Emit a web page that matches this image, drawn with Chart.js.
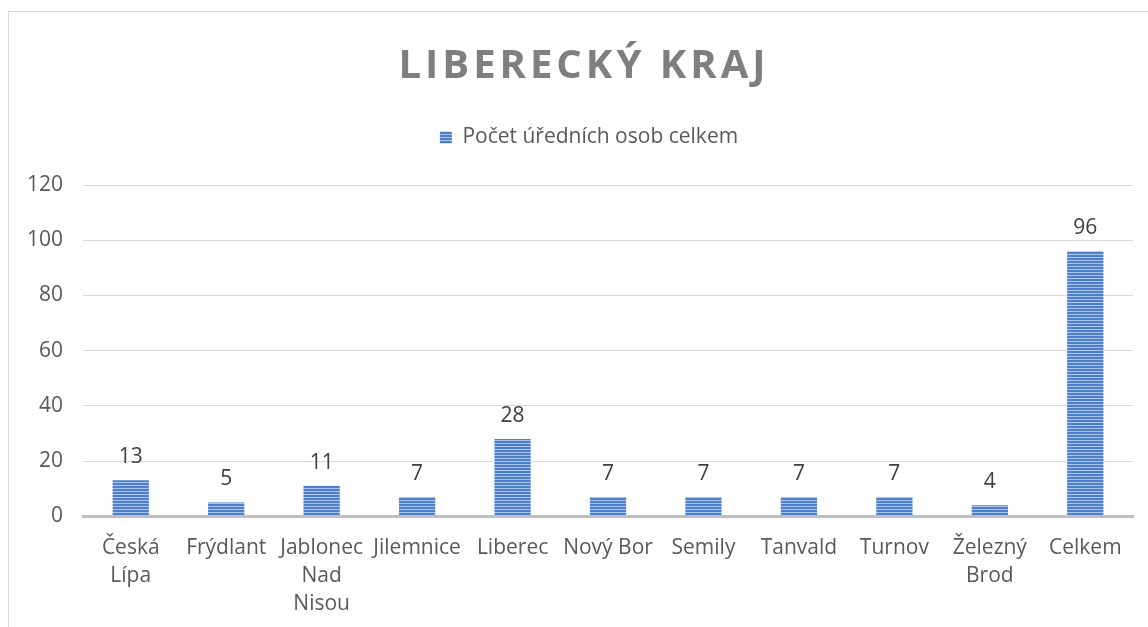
<!DOCTYPE html>
<html>
<head>
<meta charset="utf-8">
<script src="https://cdn.jsdelivr.net/npm/chart.js@4.4.0/dist/chart.umd.min.js"></script>
<style>
  html, body { margin: 0; padding: 0; background: #fff; overflow: hidden; }
  #frame { position: absolute; left: 8px; top: 11px; width: 1162px; height: 640px; border: 1px solid #d9d9d9; }
  #frame canvas { display: block; }
</style>
</head>
<body>
<div id="frame"><canvas id="kraj" width="1162" height="640"></canvas></div>
<script>
var chartTitle = "LIBERECKÝ KRAJ";
var seriesName = "Počet úředních osob celkem";
var labels = [
  ["Česká", "Lípa"], "Frýdlant", ["Jablonec", "Nad", "Nisou"], "Jilemnice", "Liberec",
  "Nový Bor", "Semily", "Tanvald", "Turnov", ["Železný", "Brod"], "Celkem"
];
var values = [13, 5, 11, 7, 28, 7, 7, 7, 7, 4, 96];
var yTicks = [0, 20, 40, 60, 80, 100, 120];

// striped fill like the office chart
function stripes() {
  var c = document.createElement("canvas");
  c.width = 4; c.height = 3;
  var g = c.getContext("2d");
  g.fillStyle = "#4f7fca"; g.fillRect(0, 0, 4, 2);
  g.fillStyle = "#a9c5ee"; g.fillRect(0, 2, 4, 1);
  return document.getElementById("kraj").getContext("2d").createPattern(c, "repeat");
}
var fill = stripes();

var titlePlugin = {
  id: "spacedTitle",
  afterDraw: function (chart) {
    var ctx = chart.ctx;
    ctx.save();
    ctx.font = "bold 40px 'Open Sans'";
    ctx.fillStyle = "#7f7f7f";
    ctx.textAlign = "center";
    ctx.textBaseline = "alphabetic";
    ctx.letterSpacing = "4px";
    ctx.fillText(chartTitle, chart.width / 2 - 6, 66);
    ctx.restore();
  }
};

// more room under the legend, and centre it on the whole frame
var legendSpace = {
  id: "legendSpace",
  beforeInit: function (chart) {
    var fit = chart.legend.fit;
    chart.legend.fit = function () {
      fit.bind(chart.legend)();
      this.height += 27;
    };
  },
  afterLayout: function (chart) {
    chart.legend.left += 19;
    chart.legend.right += 19;
  }
};

var valuePlugin = {
  id: "barValues",
  afterDatasetsDraw: function (chart) {
    var ctx = chart.ctx;
    var meta = chart.getDatasetMeta(0);
    ctx.save();
    ctx.font = "21px 'Open Sans'";
    ctx.fillStyle = "#404040";
    ctx.textAlign = "center";
    ctx.textBaseline = "alphabetic";
    meta.data.forEach(function (bar, i) {
      ctx.fillText(values[i], bar.x, bar.y - 17);
    });
    ctx.restore();
  }
};

new Chart(document.getElementById("kraj"), {
  type: "bar",
  data: {
    labels: labels,
    datasets: [
      {
        label: seriesName,
        backgroundColor: fill,
        borderWidth: 0,
        data: values,
        categoryPercentage: 1,
        barPercentage: 0.38
      }
    ]
  },
  options: {
    responsive: false,
    animation: false,
    layout: { padding: { top: 105, left: -2, right: 38, bottom: 24 } },
    plugins: {
      legend: {
        display: true,
        position: "top",
        labels: {
          boxWidth: 12, boxHeight: 12,
          color: "#595959",
          font: { family: "'Open Sans'", size: 21 },
          padding: 10
        }
      },
      title: { display: false },
      tooltip: { enabled: false }
    },
    scales: {
      x: {
        grid: { display: false },
        border: { color: "#bfbfbf", width: 3 },
        ticks: {
          color: "#595959",
          font: { family: "'Open Sans'", size: 21, lineHeight: 1.33 },
          padding: 10,
          maxRotation: 0,
          autoSkip: false
        }
      },
      y: {
        min: 0,
        max: 120,
        afterBuildTicks: function (axis) {
          axis.ticks = yTicks.map(function (v) { return { value: v }; });
        },
        grid: { color: "#d9d9d9", lineWidth: 1, drawTicks: false },
        border: { display: false },
        ticks: {
          color: "#595959",
          font: { family: "'Open Sans'", size: 21 },
          padding: 20
        }
      }
    }
  },
  plugins: [titlePlugin, legendSpace, valuePlugin]
});
</script>
</body>
</html>
